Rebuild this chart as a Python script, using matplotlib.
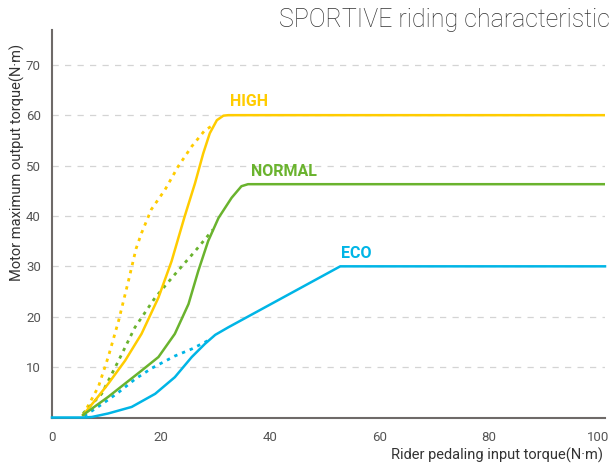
import matplotlib.pyplot as plt

plt.rcParams['font.family'] = ['Roboto', 'DejaVu Sans']

# Rider input torque (N·m) vs motor maximum output torque (N·m)
high_x = [5.7, 7.9, 10.3, 13.4, 16.4, 19.5, 21.9, 24.3, 26.2, 27.7, 28.9, 30.2, 31.4, 32.3, 101.3]
high_y = [0.5, 3.4, 6.7, 11.3, 16.6, 23.8, 31.0, 39.9, 46.5, 52.4, 56.4, 59.0, 59.9, 60.0, 60.0]
high_assist_x = [5.7, 8.5, 10.3, 12.2, 14.0, 15.4, 16.4, 18.2, 20.7, 23.1, 25.6, 28.0, 29.5]
high_assist_y = [0.5, 6.1, 12.0, 19.2, 27.1, 33.5, 36.6, 41.3, 45.2, 49.8, 53.8, 57.0, 58.0]

normal_x = [5.7, 10.3, 16.4, 19.5, 22.5, 25.0, 26.8, 28.6, 30.5, 32.9, 34.7, 35.9, 101.3]
normal_y = [0.5, 4.1, 9.3, 12.0, 16.6, 22.5, 29.1, 35.0, 39.6, 43.6, 45.9, 46.3, 46.3]
normal_assist_x = [5.7, 9.1, 12.2, 15.2, 18.9, 22.5, 26.2, 29.5]
normal_assist_y = [0.8, 4.7, 11.3, 17.9, 23.8, 28.4, 33.0, 37.3]

eco_x = [0.0, 5.9, 7.3, 10.3, 14.6, 18.9, 22.5, 25.6, 28.0, 29.9, 32.3, 52.8, 101.3]
eco_y = [0.0, 0.0, 0.1, 0.8, 2.1, 4.7, 8.0, 12.0, 14.6, 16.4, 17.9, 30.0, 30.0]
eco_assist_x = [5.9, 9.1, 12.2, 15.2, 18.3, 22.5, 25.6, 29.0]
eco_assist_y = [0.3, 2.6, 5.0, 7.6, 9.8, 12.2, 13.6, 15.5]

mode_names = ['HIGH', 'NORMAL', 'ECO']
label_x = [32.6, 36.4, 53.0]
label_y = [62.8, 48.8, 32.6]

yellow = '#FFCC00'
green = '#6AB32E'
blue = '#00B5E6'
colors = [yellow, green, blue]

fig = plt.figure(figsize=(6.14, 4.69), dpi=100)
ax = fig.add_axes([52 / 614, 1 - 417.5 / 469, (605 - 52) / 614, (417.5 - 29.5) / 469])

# dashed horizontal guides
for yv in range(10, 80, 10):
    ax.axhline(yv, color='#d4d4d4', lw=0.9, ls=(0, (5, 5)), zorder=0)

dots = (0, (1.2, 1.8))
ax.plot(high_assist_x, high_assist_y, color=yellow, lw=2, ls=dots, zorder=2)
ax.plot(normal_assist_x, normal_assist_y, color=green, lw=2, ls=dots, zorder=2)
ax.plot(eco_assist_x, eco_assist_y, color=blue, lw=2, ls=dots, zorder=2)

ax.plot(high_x, high_y, color=yellow, lw=1.8, zorder=3, solid_joinstyle='round')
ax.plot(normal_x, normal_y, color=green, lw=1.8, zorder=3, solid_joinstyle='round')
ax.plot(eco_x, eco_y, color=blue, lw=1.8, zorder=4, clip_on=False, solid_joinstyle='round')

for name, lx, ly, c in zip(mode_names, label_x, label_y, colors):
    ax.text(lx, ly, name, color=c, fontsize=11.5, fontweight='bold',
            ha='left', va='center')

ax.set_xlim(0, 101.3)
ax.set_ylim(0, 77)
ax.set_xticks([0, 20, 40, 60, 80, 100])
ax.set_yticks([10, 20, 30, 40, 50, 60, 70])
ax.tick_params(length=0, labelsize=9.5, colors='#555555', pad=8)
ax.tick_params(axis='x', pad=10)

for side in ['top', 'right']:
    ax.spines[side].set_visible(False)
for side in ['left', 'bottom']:
    ax.spines[side].set_color('#6e6a68')
    ax.spines[side].set_linewidth(1.5)

fig.text(17 / 614, 1 - 162 / 469, 'Motor maximum output torque(N·m)', rotation=90,
         ha='center', va='center', fontsize=10.5, color='#333333')
fig.text(603 / 614, 1 - 455 / 469, 'Rider pedaling input torque(N·m)',
         ha='right', va='center', fontsize=10.5, color='#333333')
fig.text(610 / 614, 1 - 20 / 469, 'SPORTIVE riding characteristic',
         ha='right', va='center', fontsize=18, color='#333333', fontweight='light')

fig.savefig('out.png', dpi=100)
